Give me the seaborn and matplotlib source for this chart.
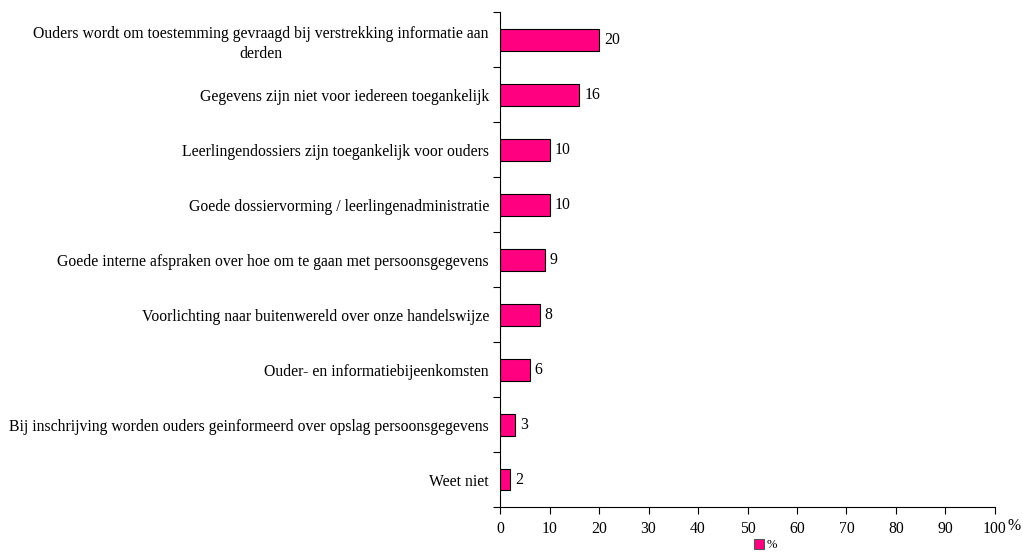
import numpy as np
import pandas as pd
import matplotlib.pyplot as plt
import seaborn as sns
from matplotlib.patches import Patch

sns.set_style("white")
plt.rcParams["font.family"] = ["Liberation Serif", "DejaVu Serif"]
plt.rcParams["text.color"] = "black"
plt.rcParams["xtick.color"] = "black"
plt.rcParams["ytick.color"] = "black"

# -----------------------------
# Data
# -----------------------------
categories = [
    "Ouders wordt om toestemming gevraagd bij verstrekking informatie aan\nderden",
    "Gegevens zijn niet voor iedereen toegankelijk",
    "Leerlingendossiers zijn toegankelijk voor ouders",
    "Goede dossiervorming / leerlingenadministratie",
    "Goede interne afspraken over hoe om te gaan met persoonsgegevens",
    "Voorlichting naar buitenwereld over onze handelswijze",
    "Ouder- en informatiebijeenkomsten",
    "Bij inschrijving worden ouders geinformeerd over opslag persoonsgegevens",
    "Weet niet",
]
values = [20, 16, 10, 10, 9, 8, 6, 3, 2]
x_ticks = list(range(0, 101, 10))

df = pd.DataFrame({"Categorie": categories, "Percentage": values})
bar_color = "#FF0080"
fs = 11.3

# -----------------------------
# Plot
# -----------------------------
fig = plt.figure(figsize=(10.23, 5.55), dpi=100)
ax = fig.add_axes([0.4888, 0.0865, 0.4838, 0.8915])

sns.barplot(data=df, x="Percentage", y="Categorie", orient="h",
            color=bar_color, edgecolor="black", linewidth=0.8,
            width=0.4, saturation=1, ax=ax)

for bar, v in zip(ax.patches, values):
    ax.text(bar.get_width() + 1, bar.get_y() + bar.get_height() / 2, str(v),
            va="center", ha="left", fontsize=fs)

ax.set_xlim(0, 100)
ax.set_ylim(len(categories) - 0.5, -0.5)
ax.set_xticks(x_ticks)
ax.set_xticklabels([str(t) for t in x_ticks], fontsize=fs)
ax.tick_params(axis="x", bottom=True, direction="out", length=5, width=0.8,
               color="black", pad=5)

# category labels without tick marks, boundary ticks on the left spine
ax.set_yticks(range(len(categories)))
ax.set_yticklabels(categories, fontsize=fs, multialignment="center",
                   linespacing=1.35)
ax.tick_params(axis="y", which="major", left=True, length=0, pad=8)
ax.set_yticks(np.arange(-0.5, len(categories) + 0.5, 1), minor=True)
ax.tick_params(axis="y", which="minor", left=True, direction="out", length=5,
               width=0.8, color="black")

ax.set_xlabel("")
ax.set_ylabel("")
ax.grid(False)
for side in ["top", "right"]:
    ax.spines[side].set_visible(False)
for side in ["left", "bottom"]:
    ax.spines[side].set_color("black")
    ax.spines[side].set_linewidth(0.8)

fig.text(0.985, 0.052, "%", fontsize=fs, ha="left", va="center")

handle = Patch(facecolor=bar_color, edgecolor="#555555", linewidth=0.8, label="%")
fig.legend(handles=[handle], loc="center", bbox_to_anchor=(0.748, 0.018),
           frameon=False, fontsize=9, handlelength=0.8, handleheight=0.8,
           handletextpad=0.2, borderpad=0)

fig.savefig("out.png", dpi=100)
plt.close(fig)
